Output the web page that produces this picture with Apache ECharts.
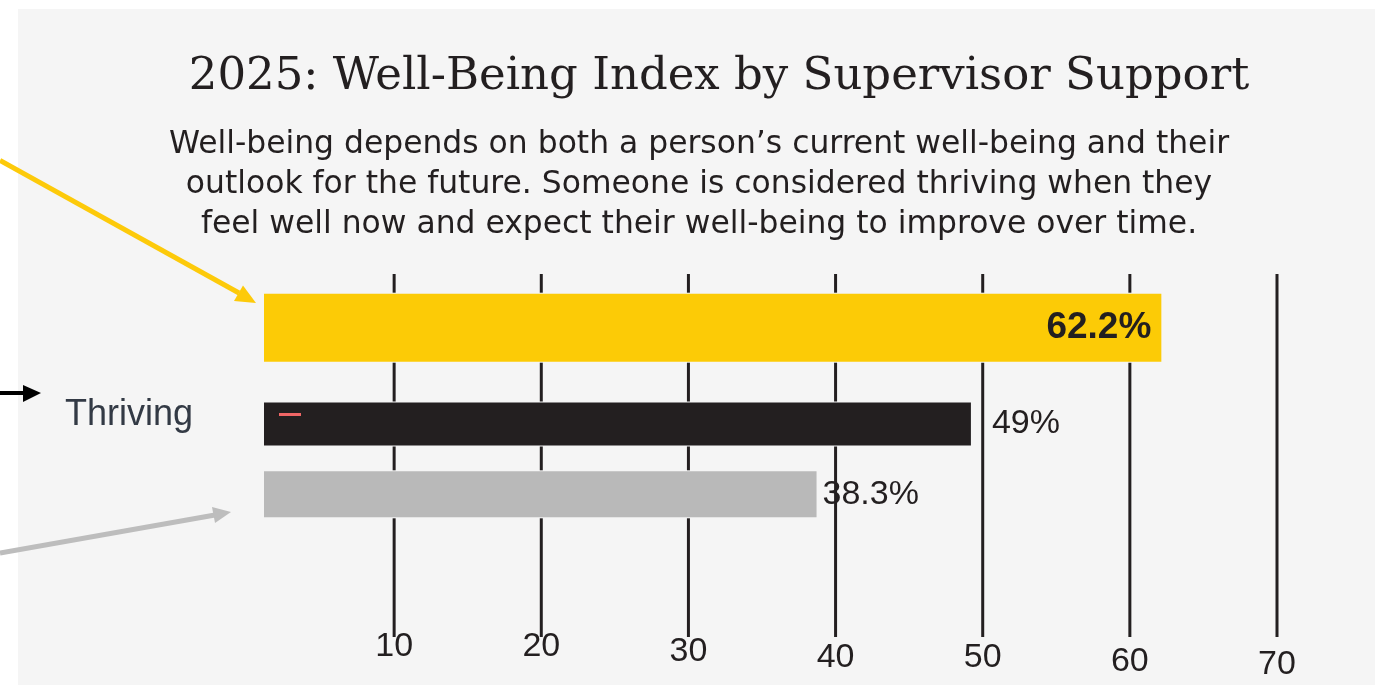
<!DOCTYPE html>
<html>
<head>
<meta charset="utf-8">
<script src="https://cdn.jsdelivr.net/npm/echarts@6/dist/echarts.min.js"></script>
<style>
  html, body { margin: 0; padding: 0; background: #ffffff; }
  #wrap { position: relative; width: 1380px; height: 685px; overflow: hidden; }
  #panel { position: absolute; left: 18px; top: 9px; width: 1357px; height: 676px; background: #f5f5f5; }
  #chart { position: absolute; left: 0; top: 0; width: 1380px; height: 685px; }
</style>
</head>
<body>
<div id="wrap"><div id="panel"></div><div id="chart"></div></div>
<script>
// ---- data ----
const categories = ['Thriving'];
const seriesNames = ['Strong supervisor support', 'All employees', 'Weak supervisor support'];
const strongValues = [62.2];
const overallValues = [49];
const weakValues = [38.3];
const tickLabels = [10, 20, 30, 40, 50, 60, 70];

const titleText = '2025: Well-Being Index by Supervisor Support';
const subtitleLines = [
  'Well-being depends on both a person\u2019s current well-being and their',
  'outlook for the future. Someone is considered thriving when they',
  'feel well now and expect their well-being to improve over time.'
];

// ---- styles / layout ----
const INK = '#231f20';
const SANS = "'Liberation Sans', Arial, sans-serif";
const CHART_W = 1380;
const BAR_GRID = { left: 264, right: 34, top: 275.5, height: 260 };
const BAR_AXIS_MAX = 75;
const BAR_WIDTHS = [68, 43, 46];
const BAR_GAP = 0.6;
// slight vertical stagger of the tick labels as in the original artwork
const tickDrop = { 10: 0, 20: 0, 30: 10, 40: 22, 50: 22, 60: 30, 70: 36 };
const rich = {};
tickLabels.forEach(function (v) {
  rich['t' + v] = { padding: [tickDrop[v] || 0, 0, 0, 0], fontSize: 34, fontFamily: SANS, color: INK, lineHeight: 20 };
});

const seriesData = [strongValues, overallValues, weakValues];
const barColors = ['#fccb06', INK, '#b9b9b9'];
const barLabels = [
  { show: true, position: 'insideRight', distance: 10, formatter: '{c}%', fontSize: 37, fontWeight: 'bold', fontFamily: SANS, color: INK },
  { show: true, position: 'right', distance: 21, formatter: '{c}%', fontSize: 34, fontFamily: SANS, color: INK },
  { show: true, position: 'right', distance: 6, formatter: '{c}%', fontSize: 34, fontFamily: SANS, color: INK }
];
const barSeries = seriesData.map(function (d, i) {
  return {
    name: seriesNames[i], type: 'bar', xAxisIndex: 1, yAxisIndex: 1, data: d, z: 5,
    barWidth: BAR_WIDTHS[i], barGap: (BAR_GAP * 100) + '%',
    itemStyle: { color: barColors[i] }, label: barLabels[i]
  };
});

// where the bars sit (from the bar grid's settings) so the grid lines can pass behind them
function barBoxes() {
  const plotW = CHART_W - BAR_GRID.left - BAR_GRID.right;
  const cy = BAR_GRID.top + BAR_GRID.height / 2;
  let total = 0;
  BAR_WIDTHS.forEach(function (w, i) { total += w + (i < BAR_WIDTHS.length - 1 ? w * BAR_GAP : 0); });
  let top = cy - total / 2;
  return seriesData.map(function (d, i) {
    const xEnd = BAR_GRID.left + d[0] / BAR_AXIS_MAX * plotW;
    const box = { x0: BAR_GRID.left, x1: xEnd, y0: top - 1, y1: top + BAR_WIDTHS[i] + 1 };
    top += BAR_WIDTHS[i] * (1 + BAR_GAP);
    return box;
  });
}

const gridLineSeries = {
  id: 'gridlines', type: 'custom', xAxisIndex: 0, yAxisIndex: 0, z: 1, silent: true,
  data: tickLabels.map(function (v) { return [v]; }),
  encode: { x: 0 },
  renderItem: function (params, api) {
    const cs = params.coordSys;
    const x = api.coord([api.value(0), 0])[0];
    const cuts = barBoxes()
      .filter(function (b) { return x > b.x0 - 2 && x < b.x1 + 2; })
      .map(function (b) { return [b.y0, b.y1]; })
      .sort(function (a, b) { return a[0] - b[0]; });
    const segs = [];
    let y = cs.y;
    cuts.forEach(function (c) {
      if (c[0] > y) segs.push([y, c[0]]);
      y = Math.max(y, c[1]);
    });
    if (y < cs.y + cs.height) segs.push([y, cs.y + cs.height]);
    return {
      type: 'group',
      children: segs.map(function (s) {
        return { type: 'rect', shape: { x: x - 1.5, y: s[0], width: 3, height: s[1] - s[0] }, style: { fill: INK } };
      })
    };
  }
};

const chart = echarts.init(document.getElementById('chart'), null, { renderer: 'canvas' });
chart.setOption({
  backgroundColor: 'transparent',
  animation: false,
  grid: [
    { left: 247, right: 103, top: 274, bottom: 48 },
    { left: BAR_GRID.left, right: BAR_GRID.right, top: BAR_GRID.top, height: BAR_GRID.height }
  ],
  xAxis: [
    {
      gridIndex: 0, type: 'value',
      min: 0, max: tickLabels[tickLabels.length - 1], interval: tickLabels[1] - tickLabels[0],
      axisLine: { show: false }, axisTick: { show: false }, splitLine: { show: false },
      axisLabel: {
        show: true, showMinLabel: false, margin: 0, verticalAlign: 'top', lineHeight: 20,
        fontSize: 34, fontFamily: SANS, color: INK,
        formatter: function (v) { return '{t' + v + '|' + v + '}'; },
        rich: rich
      }
    },
    { gridIndex: 1, type: 'value', min: 0, max: BAR_AXIS_MAX, show: false, splitLine: { show: false } }
  ],
  yAxis: [
    { gridIndex: 0, type: 'value', min: 0, max: 1, show: false, splitLine: { show: false } },
    {
      gridIndex: 1, type: 'category', data: categories,
      axisLine: { show: false }, axisTick: { show: false }, splitLine: { show: false },
      axisLabel: { margin: 71, fontSize: 36, fontFamily: SANS, color: '#333a45', verticalAlign: 'top', lineHeight: 20 }
    }
  ],
  series: [gridLineSeries].concat(barSeries),
  graphic: [
    { type: 'text', x: 719, y: 77, z: 10,
      style: { text: titleText, fill: INK, font: "45px 'DejaVu Serif', serif", textAlign: 'center', textVerticalAlign: 'middle' } },
    { type: 'text', x: 699, y: 125, z: 10,
      style: { text: subtitleLines.join('\n'), fill: INK, font: "31.4px 'DejaVu Sans', sans-serif", lineHeight: 40, textAlign: 'center', textVerticalAlign: 'top' } },
    // annotation arrows (pointing to labels outside the crop)
    { type: 'line', z: 10, shape: { x1: 0, y1: 160.5, x2: 239, y2: 293 }, style: { stroke: '#fdca0a', lineWidth: 5 } },
    { type: 'polygon', z: 10, shape: { points: [[256, 303], [234, 301], [243, 285.4]] }, style: { fill: '#fdca0a' } },
    { type: 'line', z: 10, shape: { x1: 0, y1: 393, x2: 25, y2: 393 }, style: { stroke: '#000000', lineWidth: 4 } },
    { type: 'polygon', z: 10, shape: { points: [[41, 393], [23, 385], [23, 402]] }, style: { fill: '#000000' } },
    { type: 'line', z: 10, shape: { x1: 0, y1: 553, x2: 215, y2: 515 }, style: { stroke: '#bdbdbd', lineWidth: 5 } },
    { type: 'polygon', z: 10, shape: { points: [[231, 512], [212, 507], [215, 523]] }, style: { fill: '#bdbdbd' } },
    // small red dash on the dark bar
    { type: 'rect', z: 100, shape: { x: 279, y: 413, width: 22, height: 3 }, style: { fill: '#f06666' } }
  ]
});
</script>
</body>
</html>
